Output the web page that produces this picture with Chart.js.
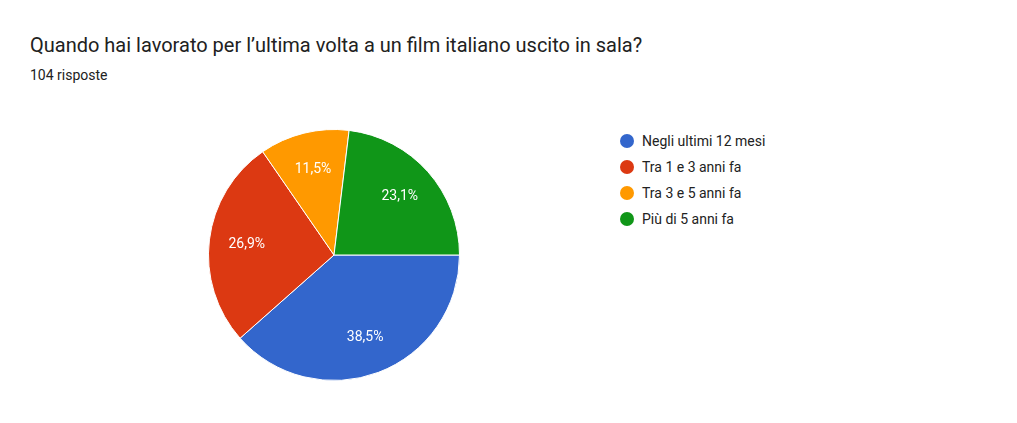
<!DOCTYPE html>
<html><head><meta charset="utf-8">
<script src="https://cdn.jsdelivr.net/npm/chart.js@4"></script>
<style>
body{margin:0;background:#fff;font-family:Roboto,sans-serif;width:1017px;height:423px;position:relative;overflow:hidden}
#t{position:absolute;left:30px;top:33px;font-size:20px;color:#212121}
#s{position:absolute;left:30px;top:67px;font-size:14px;color:#212121}
#c{position:absolute;left:206px;top:127px;width:256px;height:256px}
#lg{position:absolute;left:620px;top:128px;font-size:14px;color:#222}
.it{display:flex;align-items:center;height:26px}
.dot{width:14px;height:14px;border-radius:50%;margin-right:8px}
</style></head><body>
<div id="t">Quando hai lavorato per l’ultima volta a un film italiano uscito in sala?</div>
<div id="s">104 risposte</div>
<div id="c"><canvas id="cv"></canvas></div>
<div id="lg"></div>
<script>
const categories=["Negli ultimi 12 mesi","Tra 1 e 3 anni fa","Tra 3 e 5 anni fa","Più di 5 anni fa"];
const counts=[40,28,12,24];
const colors=["#3366cc","#dc3912","#ff9900","#109618"];
const total=counts.reduce((a,b)=>a+b,0);
const lg=document.getElementById('lg');
categories.forEach((c,i)=>{const d=document.createElement('div');d.className='it';d.innerHTML='<span class="dot" style="background:'+colors[i]+'"></span>'+c;lg.appendChild(d);});
const lbl={id:'lbl',afterDatasetsDraw(ch){const ctx=ch.ctx;ch.getDatasetMeta(0).data.forEach((a,i)=>{const p=a.getProps(['x','y','startAngle','endAngle','outerRadius'],true);const m=(p.startAngle+p.endAngle)/2,r=p.outerRadius*0.7;ctx.save();ctx.fillStyle='#fff';ctx.font='14px Roboto';ctx.textAlign='center';ctx.textBaseline='middle';ctx.fillText((counts[i]/total*100).toFixed(1).replace('.',',')+'%',p.x+Math.cos(m)*r,p.y+Math.sin(m)*r);ctx.restore();});}};
new Chart(document.getElementById('cv'),{type:'pie',data:{labels:categories,datasets:[{data:counts,backgroundColor:colors,borderColor:'#fff',borderWidth:1}]},options:{responsive:true,maintainAspectRatio:false,animation:false,rotation:90,layout:{padding:2},plugins:{legend:{display:false},tooltip:{enabled:false}}},plugins:[lbl]});
</script></body></html>
